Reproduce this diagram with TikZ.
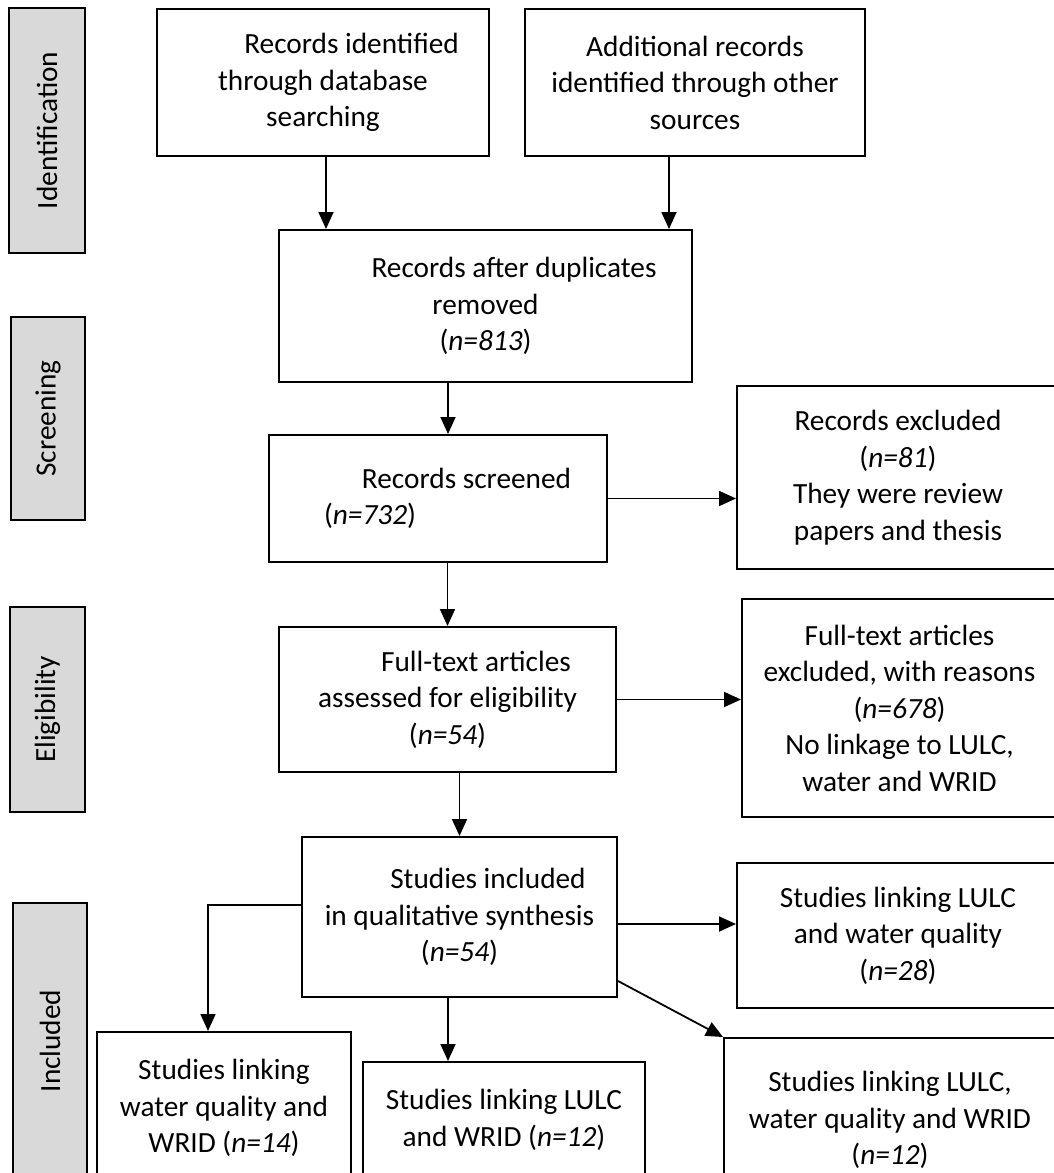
\documentclass[tikz,border=0pt]{standalone}
\usepackage{fontspec}
\setmainfont{Carlito}
\usetikzlibrary{arrows.meta}
\definecolor{stagegray}{HTML}{D9D9D9}
% first-line indent used by several boxes
\newcommand{\firstind}{\rule{28.5pt}{0pt}}
\begin{document}
\begin{tikzpicture}[x=0.5pt,y=-0.5pt,
  every node/.style={font=\fontsize{14.65pt}{18.25pt}\selectfont},
  box/.style={draw, line width=1pt, inner sep=0pt, align=center},
  stage/.style={draw, line width=1.1pt, fill=stagegray, inner sep=0pt, rotate=90},
  arr/.style={line width=0.9pt, -{Triangle[width=7.5pt,length=8.5pt]}}]
\useasboundingbox (0,0) rectangle (1054,1173);
\clip (0,0) rectangle (1054,1173);

% stage labels
\node[stage, minimum width=122.5pt, minimum height=38pt] (ident) at (47,130.5) {Identification};
\node[stage, minimum width=101.5pt, minimum height=37pt] (screen) at (48,418.5) {Screening};
\node[stage, minimum width=102.5pt, minimum height=37.5pt] (elig) at (47.5,709.5) {Eligibility};
\node[stage, minimum width=138pt, minimum height=37pt] (incl) at (50,1041) {Included};

% flow boxes
\node[box, minimum width=166pt, minimum height=73.5pt] (A) at (323,82.5)
  {\firstind Records identified\\through database\\searching};
\node[box, minimum width=170pt, minimum height=73.5pt] (B) at (695,82.5)
  {Additional records\\identified through other\\sources};
\node[box, minimum width=206.5pt, minimum height=76pt] (C) at (485.5,306)
  {\firstind Records after duplicates\\removed\\(\textit{n=813})};
\node[box, minimum width=169pt, minimum height=63.5pt] (D) at (438,498.5)
  {\firstind Records screened\\(\textit{n=732})\rule{68pt}{0pt}};
\node[box, minimum width=161pt, minimum height=91.5pt] (E) at (898,477.5)
  {Records excluded\\(\textit{n=81})\\They were review\\papers and thesis};
\node[box, minimum width=168.5pt, minimum height=72.5pt] (F) at (447.5,699.5)
  {\firstind Full-text articles\\assessed for eligibility\\(\textit{n=54})};
\node[box, minimum width=157.5pt, minimum height=109pt] (G) at (899.5,708)
  {Full-text articles\\excluded, with reasons\\(\textit{n=678})\\No linkage to LULC,\\water and WRID};
\node[box, minimum width=157.5pt, minimum height=80pt] (H) at (459.5,917)
  {\firstind Studies included\\in qualitative synthesis\\(\textit{n=54})};
\node[box, minimum width=161pt, minimum height=72.5pt] (I) at (898,935.5)
  {Studies linking LULC\\and water quality\\(\textit{n=28})};
\node[box, minimum width=127pt, minimum height=76pt] (J) at (224,1108)
  {Studies linking\\water quality and\\WRID (\textit{n=14})};
\node[box, minimum width=141pt, minimum height=58pt] (K) at (504,1120)
  {Studies linking LULC\\and WRID (\textit{n=12})};
\node[box, minimum width=166pt, minimum height=82pt] (L) at (890,1120)
  {Studies linking LULC,\\water quality and WRID\\(\textit{n=12})};

% connector anchor points
\coordinate (ac) at ([xshift=1.5pt]A.south);
\coordinate (bc) at ([xshift=-13pt]B.south);
\coordinate (cd) at ([xshift=5pt]D.north);
\coordinate (hi) at ([yshift=-3.5pt]H.east);
\coordinate (hj) at ([yshift=6pt]H.west);
\coordinate (jn) at ([xshift=-8pt]J.north);
\coordinate (kn) at ([xshift=-28pt]K.north);
\coordinate (hl) at ([yshift=-32pt]H.east);

% connectors
\draw[arr] (ac) -- (ac |- C.north);
\draw[arr] (bc) -- (bc |- C.north);
\draw[arr] (C.south -| cd) -- (cd);
\draw[arr] (D.east) -- (D.east -| E.west);
\draw[arr] (D.south -| F.north) -- (F.north);
\draw[arr] (F.east) -- (F.east -| G.west);
\draw[arr] (F.south -| H.north) -- (H.north);
\draw[arr] (hi) -- (hi -| I.west);
\draw[arr] (hj) -| (jn);
\draw[arr] (H.south -| kn) -- (kn);
\draw[arr] (hl) -- (L.north west);
\end{tikzpicture}
\end{document}
